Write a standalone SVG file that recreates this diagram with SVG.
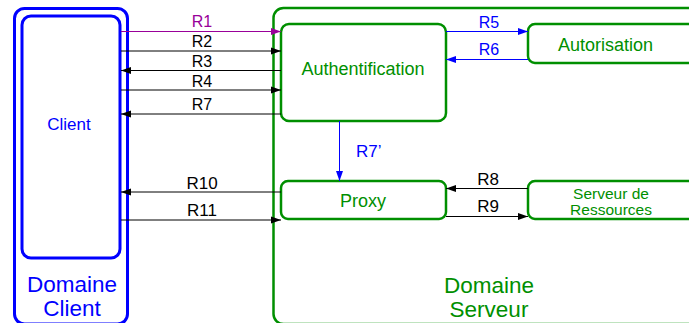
<svg xmlns="http://www.w3.org/2000/svg" width="689" height="323" viewBox="0 0 689 323">
<style>
  text { font-family: "Liberation Sans", Arial, sans-serif; text-anchor: middle; }
  .blue { fill: none; stroke: #0000ff; stroke-width: 3; }
  .green { fill: none; stroke: #008f00; stroke-width: 2.5; }
  .bt { fill: #0000ff; }
  .gt { fill: #008f00; }
  .kt { fill: #000; }
  .pt { fill: #990099; }
  .lab { font-size: 16px; }
  .lab2 { font-size: 17px; }
  .k { stroke: #000; stroke-width: 1; fill: none; }
  .b { stroke: #0000ff; stroke-width: 1; fill: none; }
  .p { stroke: #990099; stroke-width: 1; fill: none; }
</style>
<defs>
  <marker id="ak" markerWidth="10" markerHeight="8" refX="10" refY="4" orient="auto" markerUnits="userSpaceOnUse">
    <path d="M0,0.5 L10,4 L0,7.5 Z" fill="#000"/>
  </marker>
  <marker id="ab" markerWidth="10" markerHeight="8" refX="10" refY="4" orient="auto" markerUnits="userSpaceOnUse">
    <path d="M0,0.5 L10,4 L0,7.5 Z" fill="#0000ff"/>
  </marker>
  <marker id="ap" markerWidth="10" markerHeight="8" refX="10" refY="4" orient="auto" markerUnits="userSpaceOnUse">
    <path d="M0,0.5 L10,4 L0,7.5 Z" fill="#990099"/>
  </marker>
</defs>

<g id="domaine-client">
  <rect class="blue" x="14.5" y="8.5" width="113" height="315.5" rx="10"/>
  <text class="bt" x="72" y="292" font-size="22.5">Domaine</text>
  <text class="bt" x="72" y="316" font-size="22.5">Client</text>
</g>
<g id="client">
  <rect class="blue" x="22" y="16" width="98" height="242" rx="9"/>
  <text class="bt" x="69" y="130" font-size="17">Client</text>
</g>

<g id="domaine-serveur">
  <rect class="green" x="273.5" y="8" width="440" height="316" rx="10"/>
  <text class="gt" x="489" y="293" font-size="22.5">Domaine</text>
  <text class="gt" x="489" y="317" font-size="22.5">Serveur</text>
</g>
<g id="authentification">
  <rect class="green" x="281" y="24" width="165" height="97" rx="8"/>
  <text class="gt" x="363" y="75" font-size="18">Authentification</text>
</g>
<g id="autorisation">
  <rect class="green" x="528" y="24" width="180" height="39" rx="7"/>
  <text class="gt" x="605.5" y="51" font-size="18">Autorisation</text>
</g>
<g id="proxy">
  <rect class="green" x="281" y="181" width="165" height="38" rx="7"/>
  <text class="gt" x="363" y="207" font-size="18">Proxy</text>
</g>
<g id="serveur-ressources">
  <rect class="green" x="528" y="181" width="180" height="38" rx="7"/>
  <text class="gt" x="611" y="199" font-size="15.5">Serveur de</text>
  <text class="gt" x="611" y="215" font-size="15.5">Ressources</text>
</g>

<g id="connectors">
  <line class="p" x1="121" y1="31.5" x2="281" y2="31.5" marker-end="url(#ap)"/>
  <text class="pt lab" x="202" y="27">R1</text>
  <line class="k" x1="121" y1="51" x2="281" y2="51" marker-end="url(#ak)"/>
  <text class="kt lab" x="202" y="47">R2</text>
  <line class="k" x1="281" y1="70.5" x2="121" y2="70.5" marker-end="url(#ak)"/>
  <text class="kt lab" x="202" y="67">R3</text>
  <line class="k" x1="121" y1="90" x2="281" y2="90" marker-end="url(#ak)"/>
  <text class="kt lab" x="202" y="87">R4</text>
  <line class="k" x1="281" y1="114" x2="121" y2="114" marker-end="url(#ak)"/>
  <text class="kt lab" x="202" y="110">R7</text>

  <line class="b" x1="446" y1="31.5" x2="528" y2="31.5" marker-end="url(#ab)"/>
  <text class="bt lab" x="489" y="28">R5</text>
  <line class="b" x1="528" y1="59.5" x2="446" y2="59.5" marker-end="url(#ab)"/>
  <text class="bt lab" x="489" y="55">R6</text>

  <line class="b" x1="339.5" y1="121" x2="339.5" y2="181" marker-end="url(#ab)"/>
  <text class="bt lab2" x="356" y="157" style="text-anchor:start">R7’</text>

  <line class="k" x1="281" y1="192" x2="121" y2="192" marker-end="url(#ak)"/>
  <text class="kt lab2" x="202" y="189">R10</text>
  <line class="k" x1="121" y1="220" x2="281" y2="220" marker-end="url(#ak)"/>
  <text class="kt lab2" x="202" y="216">R11</text>

  <line class="k" x1="528" y1="188.5" x2="446" y2="188.5" marker-end="url(#ak)"/>
  <text class="kt lab2" x="488" y="185">R8</text>
  <line class="k" x1="446" y1="216.5" x2="528" y2="216.5" marker-end="url(#ak)"/>
  <text class="kt lab2" x="488" y="212">R9</text>
</g>
</svg>
